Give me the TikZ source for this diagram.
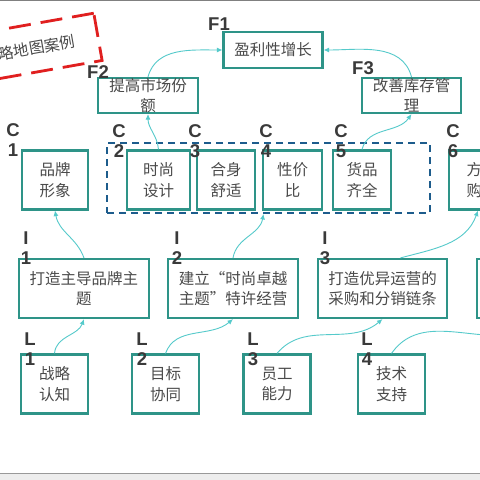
\documentclass[tikz,border=0pt]{standalone}
\usepackage{fontspec}
\usepackage{tikz}
\usetikzlibrary{arrows.meta}
\newfontfamily\cjk{Noto Sans CJK SC}
\newfontfamily\lbl{Liberation Sans}
\definecolor{boxteal}{HTML}{2E9488}
\definecolor{linkcyan}{HTML}{55CACB}
\definecolor{textgrey}{HTML}{4A4A4A}
\definecolor{lblgrey}{HTML}{3A3A3A}
\definecolor{dashblue}{HTML}{1D5C8C}
\definecolor{titlered}{HTML}{E01F1F}

\begin{document}
\begin{tikzpicture}[x=1pt,y=-1pt,
    box/.style={draw=boxteal, line width=2.2pt, fill=white, align=center, inner sep=0pt,
      text=textgrey, font=\cjk\fontsize{15.5}{20.5}\selectfont},
    tag/.style={align=center, inner sep=0pt, text=lblgrey,
      font=\lbl\bfseries\fontsize{18.5}{19.5}\selectfont},
    link/.style={draw=linkcyan, line width=0.9pt, -{Latex[length=5.5pt,width=5pt]}}]
    \clip (0,0) rectangle (480,480);
    \fill[white] (0,0) rectangle (480,480);
    \fill[black!7] (0,473) rectangle (480,480);
    \draw[black!50, line width=1.5pt] (0,0.5) -- (480,0.5);
    \draw[black!40, line width=1pt] (0,473) -- (480,473);

    % title
    \node[rotate=10, draw=titlered, line width=2.8pt, dash pattern=on 22pt off 10pt,
      minimum width=140pt, minimum height=48pt, text=textgrey,
      font=\cjk\fontsize{15.5}{18}\selectfont] (title) at (29,49) {战略地图案例};

    % financial
    \node[box, minimum width=99pt, minimum height=36pt] (f1) at (273,50) {盈利性增长};
    \node[box, minimum width=100pt, minimum height=35pt] (f2) at (148,95.5) {提高市场份\\额};
    \node[box, minimum width=99pt, minimum height=35pt] (f3) at (411.5,95.5) {改善库存管\\理};

    % customer
    \node[draw=dashblue, line width=1.9pt, dash pattern=on 7pt off 5pt,
      minimum width=323pt, minimum height=70pt] (cgroup) at (268.5,178) {};
    \node[box, minimum width=66pt, minimum height=59pt] (c1) at (55,180) {品牌\\形象};
    \node[box, minimum width=63pt, minimum height=59pt] (c2) at (158.5,180) {时尚\\设计};
    \node[box, minimum width=58pt, minimum height=59pt] (c3) at (226,180) {合身\\舒适};
    \node[box, minimum width=59pt, minimum height=59pt] (c4) at (292.5,180) {性价\\比};
    \node[box, minimum width=58pt, minimum height=59pt] (c5) at (362,180) {货品\\齐全};
    \node[box, minimum width=66pt, minimum height=59pt] (c6) at (482,180) {方便\\购买};

    % internal
    \node[box, minimum width=130pt, minimum height=59pt] (i1) at (84,288.5) {打造主导品牌主\\题};
    \node[box, minimum width=130pt, minimum height=59pt] (i2) at (233,288.5) {建立“时尚卓越\\主题”特许经营};
    \node[box, minimum width=129pt, minimum height=59pt] (i3) at (382.5,288.5) {打造优异运营的\\采购和分销链条};
    \node[box, minimum width=130pt, minimum height=59pt] (i4) at (542,288.5) {};

    % learning
    \node[box, minimum width=67pt, minimum height=59pt] (l1) at (54.5,384) {战略\\认知};
    \node[box, minimum width=67pt, minimum height=59pt] (l2) at (165.5,384) {目标\\协同};
    \node[box, minimum width=67pt, minimum height=59pt] (l3) at (277,384) {员工\\能力};
    \node[box, minimum width=67pt, minimum height=59pt] (l4) at (391.5,384) {技术\\支持};

    % tags
    \node[tag] (tf1) at (219,24) {F1};
    \node[tag] (tf2) at (98,72) {F2};
    \node[tag] (tf3) at (363,68) {F3};
    \node[tag] (tc1) at (13,140) {C\\1};
    \node[tag] (tc2) at (119,141) {C\\2};
    \node[tag] (tc3) at (195,141) {C\\3};
    \node[tag] (tc4) at (266,141) {C\\4};
    \node[tag] (tc5) at (341,141) {C\\5};
    \node[tag] (tc6) at (453,141) {C\\6};
    \node[tag] (ti1) at (26,248) {I\\1};
    \node[tag] (ti2) at (177,248) {I\\2};
    \node[tag] (ti3) at (325,248) {I\\3};
    \node[tag] (tl1) at (30,349) {L\\1};
    \node[tag] (tl2) at (142,349) {L\\2};
    \node[tag] (tl3) at (253,349) {L\\3};
    \node[tag] (tl4) at (367,349) {L\\4};

    % links
    \draw[link] (f2.north) to[out=75,in=180] (f1.west);
    \draw[link] (f3.north) to[out=105,in=0] (f1.east);
    \draw[link] (c2.north) to[out=95,in=-90] (f2.south);
    \draw[link] (c5.north) to[out=75,in=235] (f3.south);
    \draw[link] (i1.north) to[out=110,in=-80] (c1.south);
    \draw[link] (i2.north) to[out=80,in=-100] ([xshift=-5pt]cgroup.south);
    \draw[link] ([xshift=18pt]i3.north) to[out=15,in=-110] (c6.south west -| 478,0);
    \draw[link] (l1.north) to[out=85,in=-110] (i1.south);
    \draw[link] (l2.north) to[out=70,in=-140] (i2.south);
    \draw[link] (l3.north) to[out=50,in=-140] (i3.south);
    \draw[link] (l4.north) to[out=55,in=-140] (i4.south);
\end{tikzpicture}
\end{document}
